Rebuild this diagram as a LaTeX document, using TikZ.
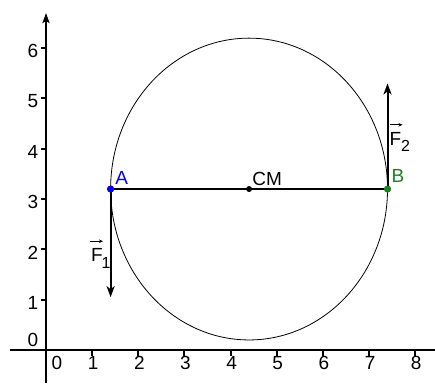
\documentclass[tikz,border=0pt]{standalone}
\usepackage{fontspec}
\setmainfont{Liberation Sans}
\usetikzlibrary{arrows.meta}
\definecolor{ptblue}{RGB}{0,0,255}
\definecolor{ptgreen}{RGB}{30,130,30}
\begin{document}
\begin{tikzpicture}[x=46.15pt,y=50.3pt,
  axis/.style={line width=2pt},
  tick/.style={line width=2pt},
  ticklab/.style={font=\fontsize{19}{19}\selectfont, inner sep=0pt},
  lab/.style={font=\fontsize{19}{19}\selectfont, inner sep=0pt},
  pt/.style={circle, fill=#1, inner sep=0pt, minimum size=7pt},
  force/.style={line width=2pt, -{Stealth[length=11pt,width=8pt,inset=3pt]}},
  vecarrow/.style={line width=0.9pt, -{Stealth[length=4pt,width=3.5pt]}},
  sub/.style={font=\fontsize{16}{16}\selectfont, inner sep=0pt}
]
\useasboundingbox (-46pt,-33pt) rectangle (389pt,350pt);
% axes
\coordinate (xl) at (-0.78,0);
\coordinate (xr) at (389pt,0);
\coordinate (yb) at (0,-33pt);
\coordinate (yt) at (0,337pt);
\draw[axis] (xl) -- (xr);
\draw[axis, -{Stealth[length=10pt,width=7pt,inset=2pt]}] (yb) -- (yt);
% x ticks
\foreach \i in {1,...,8} {
  \draw[tick] (\i,-1pt) -- (\i,-6pt);
  \node[ticklab] (xt\i) at ([xshift=1pt]\i,-13pt) {\i};
}
\node[ticklab] (xt0) at (11pt,-13pt) {0};
% y ticks
\foreach \j in {1,...,6} {
  \draw[tick] (-5pt,\j) -- (-1pt,\j);
  \node[ticklab] (yt\j) at ([yshift=-3pt]-13pt,\j) {\j};
}
\node[ticklab] (yt0) at (-13pt,10pt) {0};
% ellipse and segment
\coordinate (C) at (4.4,3.2);
\draw[line width=0.8pt] (C) ellipse [x radius=138.45pt, y radius=150.9pt];
\node[pt=ptblue] (A) at (1.4,3.2) {};
\node[pt=ptgreen] (B) at (7.4,3.2) {};
\node[pt=black, minimum size=6pt] (CM) at (C) {};
\draw[line width=1.6pt] (A) -- (B);
% forces
\coordinate (F1e) at (1.4,1.05);
\coordinate (F2e) at (7.4,5.3);
\draw[force] (A.center) -- (F1e);
\draw[force] (B.center) -- (F2e);
\node[pt=ptblue] at (A) {};
\node[pt=ptgreen] at (B) {};
% labels
\node[lab, text=ptblue] (Alab) at ([xshift=11pt,yshift=11pt]A) {A};
\node[lab, text=ptgreen] (Blab) at ([xshift=10.5pt,yshift=13pt]B) {B};
\node[lab] (CMlab) at ([xshift=18pt,yshift=10pt]C) {CM};
% F1
\node[lab] (F1) at (51pt,95pt) {F};
\node[sub] (F1s) at ([xshift=3pt,yshift=-1pt]F1.south east) {1};
\draw[vecarrow] ([xshift=-1pt,yshift=7pt]F1.north west) -- ([xshift=0pt,yshift=7pt]F1.north east);
% F2
\node[lab] (F2) at (349.5pt,211.5pt) {F};
\node[sub] (F2s) at ([xshift=4pt,yshift=-1pt]F2.south east) {2};
\draw[vecarrow] ([xshift=0pt,yshift=7pt]F2.north west) -- ([xshift=1pt,yshift=7pt]F2.north east);
\end{tikzpicture}
\end{document}
